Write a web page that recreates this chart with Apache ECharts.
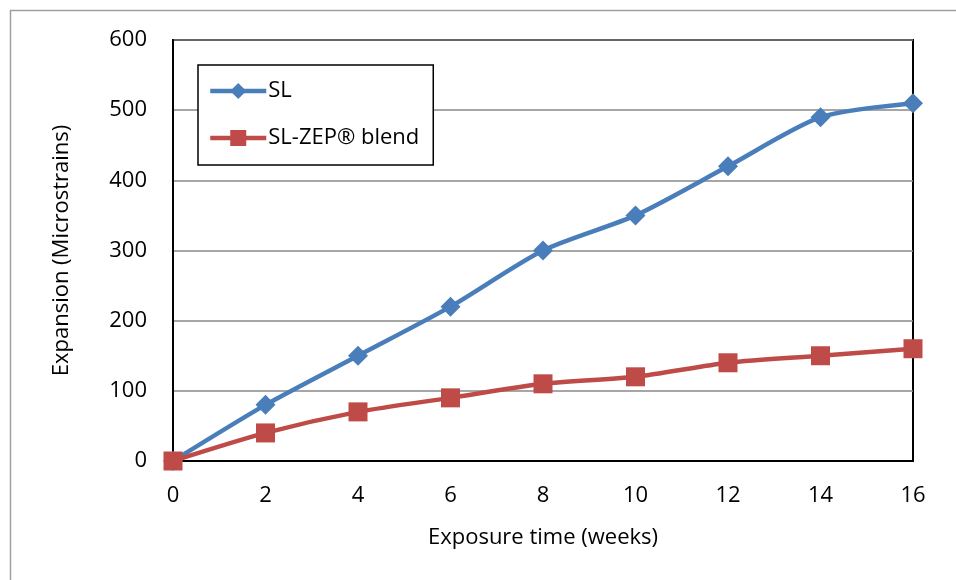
<!DOCTYPE html>
<html><head><meta charset="utf-8">
<script src="https://cdn.jsdelivr.net/npm/echarts@6/dist/echarts.min.js"></script>
<style>html,body{margin:0;padding:0;background:#fff}#c{width:956px;height:580px}</style>
</head><body><div id="c"></div>
<script>
const weeks = [0, 2, 4, 6, 8, 10, 12, 14, 16];
const slValues = [0, 80, 150, 220, 300, 350, 420, 490, 510];
const zepValues = [0, 40, 70, 90, 110, 120, 140, 150, 160];
const seriesNames = ['SL', 'SL-ZEP\u00AE blend'];
const xTitle = 'Exposure time (weeks)';
const yTitle = 'Expansion (Microstrains)';

const FONT = '"Open Sans", sans-serif';
const FS = 22;
const chart = echarts.init(document.getElementById('c'), null, {renderer: 'canvas'});
chart.setOption({
  animation: false,
  backgroundColor: '#fff',
  graphic: [{type: 'rect', shape: {x: 10.5, y: 10.5, width: 1000, height: 1000}, style: {fill: 'none', stroke: '#a0a0a0', lineWidth: 1.5}, silent: true, z: -10}],
  grid: {left: 173, right: 43, top: 40, bottom: 119, show: true, borderColor: '#000', borderWidth: 2, backgroundColor: 'transparent'},
  legend: {
    orient: 'vertical', left: 198, top: 65,
    backgroundColor: '#fff', borderColor: '#000', borderWidth: 1.5,
    padding: [15, 14, 16, 10], itemGap: 25, itemWidth: 56, itemHeight: 20,
    lineStyle: {width: 4.5},
    textStyle: {fontFamily: FONT, fontSize: FS, color: '#000', lineHeight: 22, padding: [0, 0, 0, -3]},
    data: seriesNames
  },
  xAxis: {
    type: 'value', min: 0, max: 16, interval: 2,
    name: xTitle, nameLocation: 'middle', nameGap: 66,
    nameTextStyle: {fontFamily: FONT, fontSize: FS, color: '#000'},
    axisLine: {show: true, lineStyle: {color: '#000', width: 2}},
    axisTick: {show: false},
    splitLine: {show: false},
    axisLabel: {fontFamily: FONT, fontSize: FS, color: '#000', margin: 24}
  },
  yAxis: {
    type: 'value', min: 0, max: 600, interval: 100,
    name: yTitle, nameLocation: 'middle', nameGap: 100, nameRotate: 90,
    nameTextStyle: {fontFamily: FONT, fontSize: FS, color: '#000'},
    axisLine: {show: true, lineStyle: {color: '#000', width: 2}},
    axisTick: {show: false},
    splitLine: {show: true, lineStyle: {color: '#888', width: 1.5}},
    axisLabel: {fontFamily: FONT, fontSize: FS, color: '#000', margin: 26}
  },
  series: [
    {
      name: seriesNames[0], type: 'line', smooth: 0.25,
      data: weeks.map((w, i) => [w, slValues[i]]),
      symbol: 'diamond', symbolSize: 20,
      lineStyle: {color: '#4A7EBB', width: 4.5},
      itemStyle: {color: '#4A7EBB'}, z: 3
    },
    {
      name: seriesNames[1], type: 'line', smooth: 0.25,
      data: weeks.map((w, i) => [w, zepValues[i]]),
      symbol: 'rect', symbolSize: 19,
      lineStyle: {color: '#BE4B48', width: 4.5},
      itemStyle: {color: '#BE4B48'}, z: 4
    }
  ]
});
</script></body></html>
